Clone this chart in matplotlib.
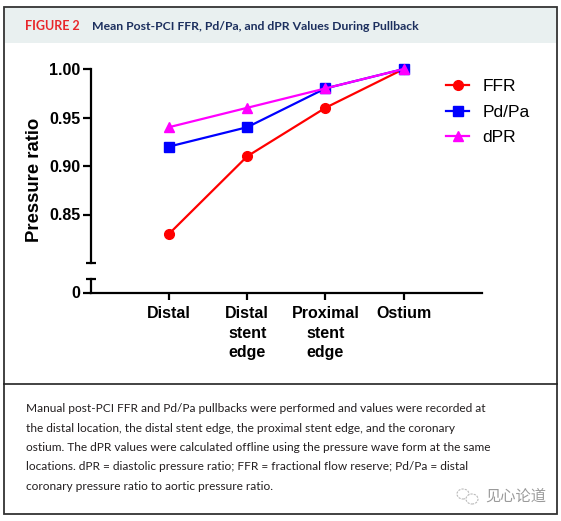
import matplotlib
matplotlib.use("Agg")
import matplotlib.pyplot as plt
from matplotlib.patches import Rectangle, Ellipse
from matplotlib.lines import Line2D

# ---------------- data ----------------
categories = ["Distal", "Distal\nstent\nedge", "Proximal\nstent\nedge", "Ostium"]
ffr = [0.83, 0.91, 0.96, 1.00]
pdpa = [0.92, 0.94, 0.98, 1.00]
dpr = [0.94, 0.96, 0.98, 1.00]
upper_ticks = [0.85, 0.90, 0.95, 1.00]
upper_labels = ["0.85", "0.90", "0.95", "1.00"]

title_tag = "FIGURE 2"
title_text = "Mean Post-PCI FFR, Pd/Pa, and dPR Values During Pullback"
caption_lines = [
    "Manual post-PCI FFR and Pd/Pa pullbacks were performed and values were recorded at",
    "the distal location, the distal stent edge, the proximal stent edge, and the coronary",
    "ostium. The dPR values were calculated offline using the pressure wave form at the same",
    "locations. dPR = diastolic pressure ratio; FFR = fractional flow reserve; Pd/Pa = distal",
    "coronary pressure ratio to aortic pressure ratio.",
]
watermark = "见心论道"

W, H = 561, 521
fig = plt.figure(figsize=(W / 100, H / 100), dpi=100)
fig.patch.set_facecolor("white")

def fx(x):
    return x / W

def fy(y):
    return 1 - y / H

ARIAL = "Liberation Sans"

# ---------------- frame / header ----------------
border_col = "#333333"
fig.add_artist(Rectangle((fx(4), fy(514)), fx(557) - fx(4), fy(7) - fy(514),
                         transform=fig.transFigure, facecolor="none",
                         edgecolor=border_col, lw=1.3, zorder=0))
fig.add_artist(Rectangle((fx(5), fy(43)), fx(556) - fx(5), fy(8) - fy(43),
                         transform=fig.transFigure, facecolor="#e9f0f0",
                         edgecolor="none", zorder=0))
fig.add_artist(Line2D([fx(4), fx(557)], [fy(384), fy(384)], transform=fig.transFigure,
                      color="#222222", lw=1.2))

fig.text(fx(25), fy(26), title_tag, color="#e8262b", fontsize=9.0, fontweight="bold",
         family="Lato", va="center", ha="left")
fig.text(fx(92), fy(26), title_text, color="#1c2f5e", fontsize=8.8, fontweight="bold",
         family="Lato", va="center", ha="left")

# ---------------- axes ----------------
left, right = fx(90.7), fx(482)
ax = fig.add_axes([left, fy(263), right - left, fy(69) - fy(263)])
ax2 = fig.add_axes([left, fy(292.5), right - left, fy(279) - fy(292.5)])

x = list(range(len(categories)))
ax.plot(x, ffr, color="#ff0000", marker="o", ms=7, lw=1.6, label="FFR", clip_on=False, zorder=3)
ax.plot(x, pdpa, color="#0000ff", marker="s", ms=6.5, lw=1.6, label="Pd/Pa", clip_on=False, zorder=3)
ax.plot(x, dpr, color="#ff00ff", marker="^", ms=7, lw=1.6, label="dPR", clip_on=False, zorder=4)

for a in (ax, ax2):
    a.set_xlim(-1, 4)
    for s in ("top", "right"):
        a.spines[s].set_visible(False)
    a.spines["left"].set_linewidth(1.6)
    a.patch.set_alpha(0)

cap = 5.0 / (482 - 90.7)

ax.set_ylim(0.80, 1.00)
ax.spines["bottom"].set_visible(False)
ax.set_yticks(upper_ticks)
ax.set_yticklabels(upper_labels)
ax.set_xticks([])
ax.tick_params(axis="y", direction="out", length=6, width=1.6, pad=1.5, labelsize=11.5)
for t in ax.get_yticklabels():
    t.set_fontweight("bold"); t.set_family(ARIAL)
# cap at the break
ax.plot([-cap, cap], [0, 0], transform=ax.transAxes, color="black", lw=1.6, clip_on=False,
        solid_capstyle="butt")

ax2.set_ylim(0, 1)
ax2.spines["bottom"].set_linewidth(1.6)
ax2.set_yticks([0])
ax2.set_yticklabels(["0"])
ax2.set_xticks(x)
ax2.set_xticklabels(categories)
ax2.tick_params(axis="y", direction="out", length=6, width=1.6, pad=1.5, labelsize=11.5)
ax2.tick_params(axis="x", direction="out", length=5, width=1.6, pad=5, labelsize=11.5)
for t in ax2.get_yticklabels() + ax2.get_xticklabels():
    t.set_fontweight("bold"); t.set_family(ARIAL)
for t in ax2.get_xticklabels():
    t.set_linespacing(1.35)
ax2.plot([-cap, cap], [1, 1], transform=ax2.transAxes, color="black", lw=1.6, clip_on=False,
         solid_capstyle="butt")

fig.text(fx(34.5), fy(180), "Pressure ratio", rotation=90, fontsize=13.3, fontweight="bold",
         family=ARIAL, ha="center", va="center")

leg = ax.legend(loc="center left", bbox_to_anchor=(fx(446), fy(112)), bbox_transform=fig.transFigure,
                frameon=False, prop={"family": ARIAL, "size": 12.5}, handlelength=1.35,
                handletextpad=0.75, labelspacing=0.62, borderpad=0, borderaxespad=0)

# ---------------- caption ----------------
cap_y = [408, 428, 447.5, 467, 487]
for yy, line in zip(cap_y, caption_lines):
    fig.text(fx(26), fy(yy), line, fontsize=8.6, family="Lato", color="#231f20",
             ha="left", va="center")

# watermark
fig.add_artist(Ellipse((fx(463), fy(494)), fx(12), fy(0) - fy(10), transform=fig.transFigure,
                       facecolor="none", edgecolor="#bbbbbb", lw=0.8, ls=(0, (2, 1))))
fig.add_artist(Ellipse((fx(472), fy(499)), fx(12), fy(0) - fy(10), transform=fig.transFigure,
                       facecolor="white", edgecolor="#bbbbbb", lw=0.8, ls=(0, (2, 1))))
fig.text(fx(485), fy(496), watermark, fontsize=11, family="Noto Sans CJK SC", color="#9a9a9a",
         ha="left", va="center")

fig.savefig("out.png", dpi=100)
